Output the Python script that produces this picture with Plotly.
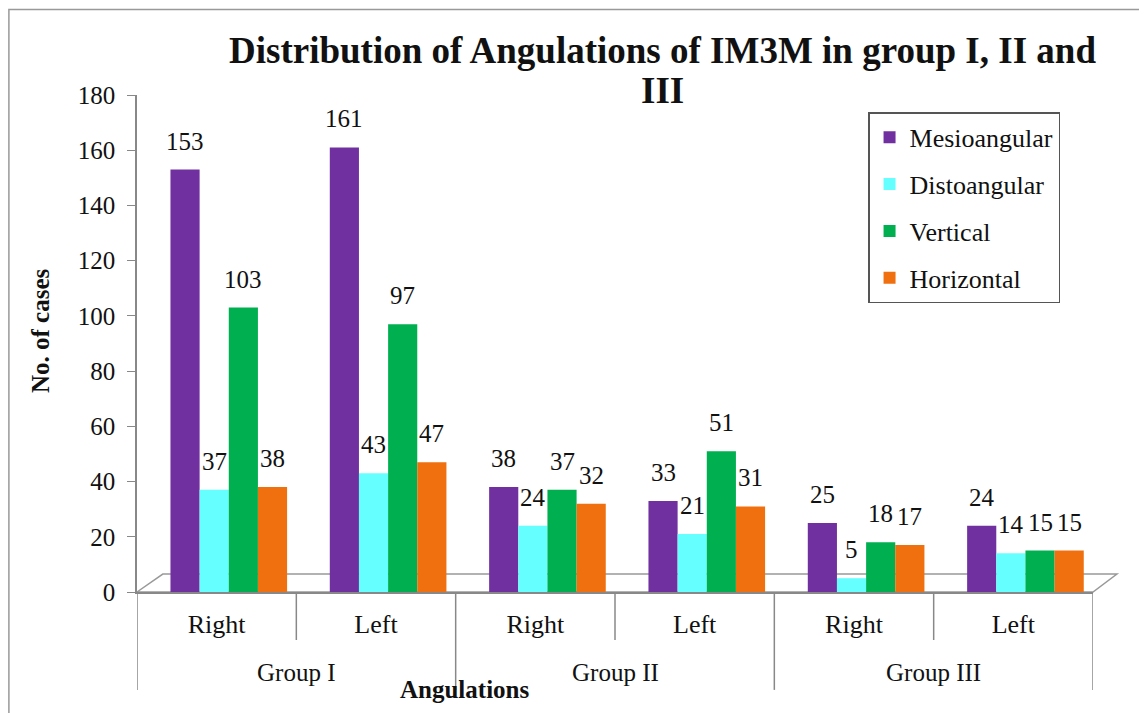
import plotly.graph_objects as go

groups = ["Group I", "Group II", "Group III"]
sides = ["Right", "Left", "Right", "Left", "Right", "Left"]
series = ["Mesioangular", "Distoangular", "Vertical", "Horizontal"]
mesio = [153, 161, 38, 33, 25, 24]
disto = [37, 43, 24, 21, 5, 14]
vertical = [103, 97, 37, 51, 18, 15]
horizontal = [38, 47, 32, 31, 17, 15]
colors = ["#7030A0", "#66FFFF", "#00B050", "#F07010"]
y_ticks = [0, 20, 40, 60, 80, 100, 120, 140, 160, 180]

serif = "Times New Roman, Liberation Serif, serif"
xpos = list(range(len(sides)))
bar_w = 0.183
start_off = -0.29

fig = go.Figure()
annotations = []
for i, (name, vals, col) in enumerate(zip(series, [mesio, disto, vertical, horizontal], colors)):
    off = start_off + i * bar_w
    fig.add_trace(go.Bar(
        x=xpos, y=vals, name=name, legendgroup=f"g{i}",
        width=bar_w, offset=off,
        marker=dict(color=col, line=dict(width=0)),
        cliponaxis=False,
    ))
    for xp, v in zip(xpos, vals):
        annotations.append(dict(text=str(v), x=xp + off + bar_w / 2, xref="x", y=v, yref="y",
                                yanchor="bottom", xanchor="center", yshift=13, showarrow=False,
                                font=dict(family=serif, size=25, color="#111111")))

annotations += [
    dict(text="<b>Distribution of Angulations of IM3M in group I, II and</b>",
         x=0.550, xref="paper", y=1.0905, yref="paper", xanchor="center", yanchor="middle",
         showarrow=False, font=dict(family=serif, size=37, color="#111111")),
    dict(text="<b>III</b>",
         x=0.550, xref="paper", y=1.010, yref="paper", xanchor="center", yanchor="middle",
         showarrow=False, font=dict(family=serif, size=37, color="#111111")),
    dict(text="<b>No. of cases</b>", textangle=-90, x=-0.1015, xref="paper", y=0.527, yref="paper",
         showarrow=False, font=dict(family=serif, size=25), xanchor="center", yanchor="middle"),
    dict(text="<b>Angulations</b>", x=0.343, xref="paper", y=-0.197, yref="paper",
         showarrow=False, font=dict(family=serif, size=25), xanchor="center", yanchor="middle"),
]
for gi, g in enumerate(groups):
    annotations.append(dict(text=g, x=2 * gi + 0.5, xref="x", y=-0.161, yref="paper",
                            showarrow=False, font=dict(family=serif, size=25),
                            xanchor="center", yanchor="middle"))

shapes = []
for k in range(len(sides) + 1):
    b = k - 0.5
    long_div = (k % 2 == 0)
    shapes.append(dict(type="line", xref="x", yref="paper", x0=b, x1=b, y0=0,
                       y1=-0.197 if long_div else -0.0966,
                       line=dict(color="#888888", width=1.5)))
# 3D floor outline
shapes.append(dict(type="path", xref="paper", yref="paper",
                   path="M 0,0 L 0.027,0.036 L 1.025,0.036 L 1.0,0 Z",
                   line=dict(color="#999999", width=1.5), fillcolor="rgba(0,0,0,0)", layer="below"))
# outer frame
shapes.append(dict(type="rect", xref="paper", yref="paper", x0=-0.134, x1=1.2, y0=-0.4, y1=1.172,
                   line=dict(color="#999999", width=1.5)))

fig.update_layout(
    width=1139, height=705,
    margin=dict(l=129, r=54, t=87, b=121),
    paper_bgcolor="white", plot_bgcolor="white",
    barmode="overlay",
    font=dict(family=serif, size=22, color="#111111"),
    showlegend=True,
    legend=dict(x=0.7647, y=0.965, xanchor="left", yanchor="top",
                bordercolor="#555555", borderwidth=1.5, bgcolor="white",
                font=dict(family=serif, size=26), tracegroupgap=10,
                itemsizing="constant"),
    xaxis=dict(range=[-0.5, 5.5], tickvals=xpos, ticktext=sides,
               showline=True, linecolor="#888888", linewidth=1.5, ticks="",
               ticklabelstandoff=8, tickfont=dict(family=serif, size=26)),
    yaxis=dict(range=[0, 180], tickvals=y_ticks, showgrid=False,
               showline=True, linecolor="#888888", linewidth=1.5,
               ticks="outside", ticklen=8, tickcolor="#888888",
               ticklabelstandoff=7,
               tickfont=dict(family=serif, size=25), zeroline=False),
    annotations=annotations,
    shapes=shapes,
)
fig.write_html("out.html")
